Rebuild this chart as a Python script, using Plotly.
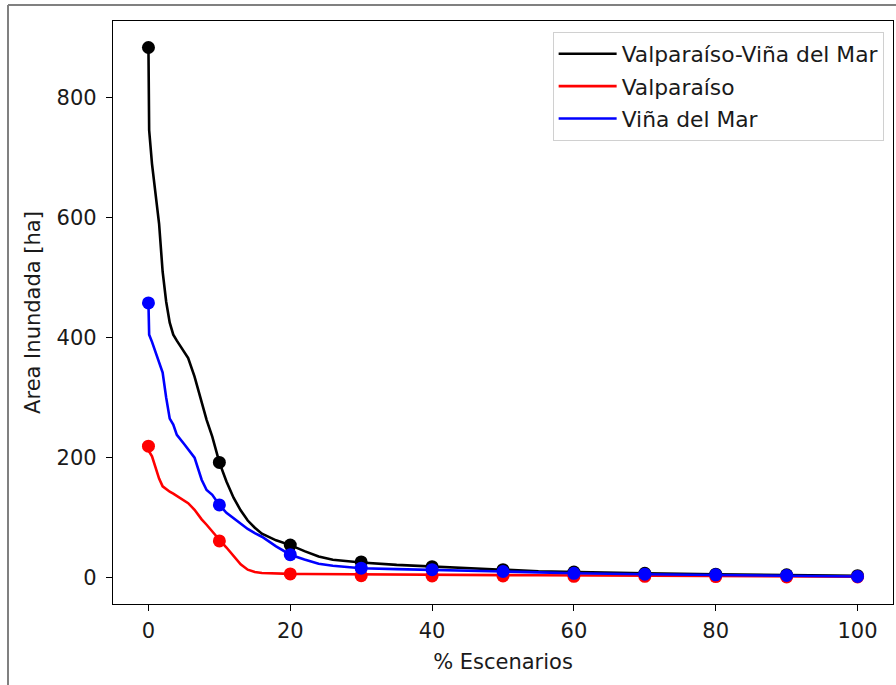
import plotly.graph_objects as go

# Line data (fine curves)
x_line = [0, 0.1, 0.5, 1.0, 1.5, 2.0, 2.5, 3.0, 3.5, 4, 5, 5.6, 6.5, 7.5, 8.2, 9, 10, 11, 12, 13, 14, 15, 16, 18, 20, 22, 24, 26, 28, 30, 35, 40, 45, 50, 55, 60, 70, 80, 90, 100]
y_total = [884, 746, 690, 640, 590, 510, 460, 425, 405, 395, 378, 366, 335, 292, 263, 235, 192, 160, 133, 112, 95, 83, 73, 62, 54, 44, 35, 29.5, 27, 25, 21, 18, 15.5, 13, 10.5, 9, 7, 5.5, 4.5, 3]
y_valp = [219, 210, 202, 182, 165, 152, 147, 143, 140, 136, 128, 124, 113, 97, 88, 76, 63, 50, 35, 22, 13, 9, 7.5, 6.5, 6, 5.8, 5.6, 5.4, 5.2, 5, 4.8, 4.5, 4.2, 4, 3.8, 3.5, 3, 2.5, 2, 1.5]
y_vina = [458, 405, 393, 375, 358, 342, 300, 265, 255, 238, 223, 213, 200, 163, 146, 138, 121, 108, 99, 89, 81, 74, 68, 52, 38, 30, 23, 19.5, 17, 15.5, 14, 13, 11.5, 10, 8.5, 7, 5.5, 4.5, 3.5, 1.7]

# Marker data (every 10 %)
x_mark = [0, 10, 20, 30, 40, 50, 60, 70, 80, 90, 100]
m_total = [884, 192, 54, 26, 18, 13, 9, 7, 5.5, 4.5, 3]
m_valp = [219, 61, 6, 3, 2.5, 2.5, 2, 2, 1.5, 1, 0.8]
m_vina = [458, 121, 38, 15.6, 13, 10, 7, 5.5, 4.5, 3.5, 1.7]

names = ["Valparaíso-Viña del Mar", "Valparaíso", "Viña del Mar"]
colors = ["#000000", "#ff0000", "#0000ff"]

fig = go.Figure()
for name, col, yl, ym in zip(names, colors, [y_total, y_valp, y_vina], [m_total, m_valp, m_vina]):
    fig.add_trace(go.Scatter(x=x_line, y=yl, mode="lines", name=name,
                             line=dict(color=col, width=2.6), legendgroup=name))
    fig.add_trace(go.Scatter(x=x_mark, y=ym, mode="markers", showlegend=False,
                             marker=dict(color=col, size=13, line=dict(width=0)),
                             legendgroup=name))

font = dict(family="DejaVu Sans", size=21, color="#1a1a1a")
legend_font = dict(family="DejaVu Sans", size=21.8, color="#1a1a1a")

fig.update_layout(
    width=896, height=685,
    margin=dict(l=113, r=3, t=21, b=81),
    paper_bgcolor="white", plot_bgcolor="white",
    font=font,
    showlegend=True,
    legend=dict(x=0.988, y=0.981, xanchor="right", yanchor="top",
                bgcolor="white", bordercolor="#d0d0d0", borderwidth=1,
                traceorder="grouped", tracegroupgap=1, itemwidth=58,
                font=legend_font),
    xaxis=dict(range=[-5, 105], tickvals=[0, 20, 40, 60, 80, 100],
               showgrid=False, zeroline=False, showline=True, linecolor="black",
               linewidth=1.3, mirror=True, ticks="outside", ticklen=6, tickwidth=1.3,
               tickcolor="black", ticklabelstandoff=2,
               title=dict(text="% Escenarios", standoff=11, font=font)),
    yaxis=dict(range=[-44.2, 928.2], tickvals=[0, 200, 400, 600, 800],
               showgrid=False, zeroline=False, showline=True, linecolor="black",
               linewidth=1.3, mirror=True, ticks="outside", ticklen=6, tickwidth=1.3,
               tickcolor="black", ticklabelstandoff=5,
               title=dict(text="Area Inundada [ha]", standoff=10, font=font)),
    shapes=[
        dict(type="line", xref="paper", yref="paper",
             x0=(8 - 113) / 780, x1=(8 - 113) / 780,
             y0=(604 - 690) / 583, y1=(604 - 5) / 583,
             line=dict(color="#808080", width=2)),
        dict(type="line", xref="paper", yref="paper",
             x0=(8 - 113) / 780, x1=(900 - 113) / 780,
             y0=(604 - 5) / 583, y1=(604 - 5) / 583,
             line=dict(color="#808080", width=2)),
    ],
)

fig.write_html("out.html")
